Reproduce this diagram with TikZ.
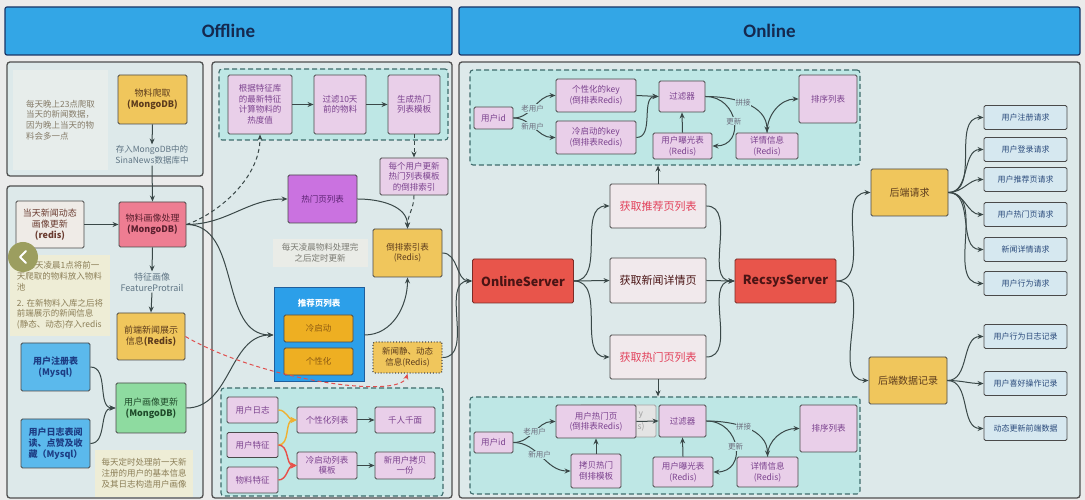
\documentclass[tikz,border=0pt]{standalone}
\usepackage{fontspec}
\setmainfont{Noto Sans CJK SC}
\newfontfamily\hdfont{Carlito}
\usetikzlibrary{arrows.meta}
\definecolor{pagebg}{HTML}{EBEBEB}
\definecolor{hdrfill}{HTML}{33A6E6}
\definecolor{hdrline}{HTML}{1A3566}
\definecolor{hdrtext}{HTML}{15294F}
\definecolor{framefill}{HTML}{DDE9EA}
\definecolor{frameline}{HTML}{4F4F4F}
\definecolor{dashfill}{HTML}{BEE7E5}
\definecolor{dashline}{HTML}{3E6B6B}
\definecolor{boxline}{HTML}{4A4A4A}
\definecolor{lilac}{HTML}{E9CFE9}
\definecolor{lilactext}{HTML}{7B428E}
\definecolor{ylwfill}{HTML}{F0C65C}
\definecolor{ylwtext}{HTML}{5C3B1C}
\definecolor{pinkfill}{HTML}{EE7D92}
\definecolor{pinktext}{HTML}{5A1F2E}
\definecolor{greenfill}{HTML}{8EDBA0}
\definecolor{greentext}{HTML}{1F4A2A}
\definecolor{bluefill}{HTML}{5BB9EC}
\definecolor{bluetext}{HTML}{1D3D84}
\definecolor{purpfill}{HTML}{CA72E0}
\definecolor{purptext}{HTML}{5B2272}
\definecolor{recfill}{HTML}{2C9FE9}
\definecolor{recline}{HTML}{1F5E9C}
\definecolor{orgfill}{HTML}{EEAF22}
\definecolor{orgtext}{HTML}{8C5A12}
\definecolor{redfill}{HTML}{E8554B}
\definecolor{redline}{HTML}{7C2B26}
\definecolor{redtext}{HTML}{4A1414}
\definecolor{getfill}{HTML}{F1E9EC}
\definecolor{gettext}{HTML}{E2405A}
\definecolor{listfill}{HTML}{D6E8F0}
\definecolor{listtext}{HTML}{2B4B7C}
\definecolor{noteA}{HTML}{E7EDEB}
\definecolor{noteAtext}{HTML}{857B68}
\definecolor{noteY}{HTML}{EEEDD6}
\definecolor{noteYtext}{HTML}{8B7E57}
\definecolor{noteD}{HTML}{EAECE7}
\definecolor{noteDtext}{HTML}{7A7A72}
\definecolor{storetext}{HTML}{5F7584}
\definecolor{arrcol}{HTML}{3A4848}
\definecolor{lbltext}{HTML}{6C6C7C}
\definecolor{reddash}{HTML}{E0504F}
\definecolor{orgline}{HTML}{F0B030}
\definecolor{redline2}{HTML}{E8504A}
\definecolor{todayfill}{HTML}{EFEBE7}
\definecolor{todaytext}{HTML}{6A3B30}
\definecolor{grayfill}{HTML}{E4E4E4}
\definecolor{graytext}{HTML}{A0A0A0}
\definecolor{olivec}{HTML}{9C9E5F}
\newcommand{\fsbox}{\fontsize{8.5}{10.5}\selectfont}
\newcommand{\fsleft}{\fontsize{9}{11}\selectfont}
\newcommand{\fsnote}{\fontsize{8.5}{10.8}\selectfont}
\newcommand{\fssmall}{\fontsize{7.5}{9}\selectfont}
\newcommand{\fslist}{\fontsize{8}{9.5}\selectfont}
\tikzset{
  hdr/.style={draw=hdrline, fill=hdrfill, line width=1.2pt, rounded corners=2pt, text=hdrtext, font=\hdfont\bfseries\fontsize{19}{22}\selectfont},
  frame/.style={draw=frameline, fill=framefill, line width=1.3pt, rounded corners=3pt},
  dbox/.style={draw=dashline, fill=dashfill, line width=1.1pt, dash pattern=on 5pt off 3pt, rounded corners=3pt},
  bx/.style={draw=boxline, line width=0.9pt, rounded corners=1.5pt, align=center, inner sep=1pt, font=\fsbox},
  lil/.style={bx, fill=lilac, text=lilactext},
  ybox/.style={bx, fill=ylwfill, text=ylwtext, font=\fsleft},
  pbox/.style={bx, fill=pinkfill, text=pinktext, font=\fsleft},
  gbox/.style={bx, fill=greenfill, text=greentext, font=\fsleft},
  bbox/.style={bx, fill=bluefill, text=bluetext, font=\fsleft\bfseries},
  obox/.style={bx, fill=orgfill, text=orgtext},
  srv/.style={bx, fill=redfill, draw=redline, text=redtext, font=\bfseries\fontsize{12.5}{14}\selectfont},
  getbox/.style={bx, fill=getfill, text=gettext, font=\fontsize{11}{13}\selectfont},
  lbox/.style={bx, fill=listfill, text=listtext, font=\fslist, minimum width=83pt, minimum height=24pt},
  note/.style={align=left, inner sep=2pt, font=\fsnote},
  arr/.style={draw=arrcol, line width=1pt, -{Stealth[length=6pt,width=5pt]}},
  dsh/.style={dash pattern=on 4pt off 3pt},
  oarr/.style={draw=orgline, line width=1.4pt, -{Stealth[length=6pt,width=6pt]}},
  rarr/.style={draw=redline2, line width=1.4pt, -{Stealth[length=6pt,width=6pt]}},
  redarr/.style={draw=reddash, line width=1pt, dash pattern=on 4pt off 3pt, -{Stealth[length=6pt,width=5pt]}},
  lbl/.style={fill=dashfill, inner sep=0.6pt, text=lbltext, font=\fssmall},
  frag/.style={anchor=west, inner sep=0pt, text=graytext, font=\fsbox},
}
\begin{document}
\begin{tikzpicture}[x=1pt,y=1pt]
\useasboundingbox (0,0) rectangle (1085,500);
\fill[pagebg] (0,0) rectangle (1085,500);
% headers
\node[hdr, minimum width=447pt, minimum height=48pt] (offh) at (228.5,469) {Offline};
\node[hdr, minimum width=621pt, minimum height=48pt] (onh) at (769.5,469) {Online};
% frames
\node[frame, minimum width=196pt, minimum height=114pt] (fA) at (105,381) {};
\node[frame, minimum width=196pt, minimum height=312pt] (fB) at (105,158) {};
\node[frame, minimum width=240pt, minimum height=436pt] (fM) at (332,220) {};
\node[frame, minimum width=621pt, minimum height=436pt] (fO) at (769.5,220) {};
% ---------- left column ----------
\node[note, fill=noteA, text=noteAtext, minimum width=95pt, minimum height=100pt] (tA) at (60.5,380) {每天晚上23点爬取\\当天的新闻数据，\\因为晚上当天的物\\料会多一点};
\node[ybox, minimum width=69pt, minimum height=49pt] (crawl) at (152.5,400.5) {物料爬取\\\textbf{(MongoDB)}};
\node[align=center, inner sep=1pt, text=storetext, font=\fsnote] (store) at (152,345) {存入MongoDB中的\\SinaNews数据库中};
\node[bx, fill=todayfill, text=todaytext, font=\fsleft, minimum width=68pt, minimum height=47pt] (today) at (50,275.5) {当天新闻动态\\画像更新\\\textbf{(redis)}};
\node[pbox, minimum width=67pt, minimum height=45pt] (proc) at (152.5,275.5) {物料画像处理\\\textbf{(MongoDB)}};
\node[note, fill=noteY, text=noteYtext, minimum width=100pt, minimum height=81pt] (tB) at (60,204.5) {1. 每天凌晨1点将前一\\天爬取的物料放入物料\\池\\[5pt]2. 在新物料入库之后将\\前端展示的新闻信息\\(静态、动态)存入redis};
\node[align=center, inner sep=1pt, text=storetext, font=\fsleft] (feat) at (152,218) {特征画像\\FeatureProtrail};
\node[ybox, minimum width=68pt, minimum height=47pt] (front) at (151,163.5) {前端新闻展示\\信息\textbf{(Redis)}};
\node[bbox, minimum width=69pt, minimum height=48pt] (reg) at (55.5,133) {用户注册表\\(Mysql)};
\node[bbox, minimum width=69pt, minimum height=49pt] (log) at (55.5,56.5) {用户日志表阅\\读、点赞及收\\藏（Mysql）};
\node[gbox, minimum width=70pt, minimum height=50pt] (uprof) at (151,92) {用户画像更新\\\textbf{(MongoDB)}};
\node[note, fill=noteY, text=noteYtext, minimum width=98pt, minimum height=47pt] (tC) at (144,26.5) {每天定时处理前一天新\\注册的用户的基本信息\\及其日志构造用户画像};
% ---------- middle column ----------
\node[dbox, minimum width=229pt, minimum height=71pt] (dM1) at (333.5,395.5) {};
\node[lil, minimum width=64pt, minimum height=59pt] (hot1) at (260,395.5) {根据特征库\\的最新特征\\计算物料的\\热度值};
\node[lil, minimum width=52pt, minimum height=59pt] (hot2) at (340,395.5) {过滤10天\\前的物料};
\node[lil, minimum width=52pt, minimum height=59pt] (hot3) at (414,395.5) {生成热门\\列表模板};
\node[lil, minimum width=68pt, minimum height=37pt] (inv1) at (414,323.5) {每个用户更新\\热门列表模板\\的倒排索引};
\node[bx, fill=purpfill, text=purptext, minimum width=69pt, minimum height=48pt] (hotlist) at (322.5,301) {热门页列表};
\node[ybox, font=\fsbox, minimum width=69pt, minimum height=48pt] (invidx) at (407.5,247) {倒排索引表\\(Redis)};
\node[note, align=center, fill=noteD, text=noteDtext, minimum width=95pt, minimum height=28pt] (tD) at (320,247) {每天凌晨物料处理完\\之后定时更新};
\node[draw=recline, fill=recfill, line width=1pt, minimum width=90pt, minimum height=94pt] (rec) at (319,165) {};
\node[text=white, font=\fsbox\bfseries, inner sep=1pt] (rectitle) at (319,197) {推荐页列表};
\node[obox, minimum width=69pt, minimum height=27pt] (cold) at (318.5,171.5) {冷启动};
\node[obox, minimum width=69pt, minimum height=27pt] (pers) at (318.5,138.5) {个性化};
\node[bx, fill=ylwfill, text=ylwtext, draw=boxline, dotted, line width=1.3pt, minimum width=69pt, minimum height=31pt] (news) at (407.5,142.5) {新闻静、动态\\信息(Redis)};
\node[dbox, minimum width=222pt, minimum height=108pt] (dM2) at (332,58) {};
\node[lil, minimum width=51pt, minimum height=26pt] (ulog) at (252.5,90) {用户日志};
\node[lil, minimum width=51pt, minimum height=25pt] (ufeat) at (252.5,55) {用户特征};
\node[lil, minimum width=51pt, minimum height=26pt] (ifeat) at (252.5,20) {物料特征};
\node[lil, minimum width=60pt, minimum height=26pt] (plist) at (327,80) {个性化列表};
\node[lil, minimum width=60pt, minimum height=26pt] (qrqm) at (405,80) {千人千面};
\node[lil, minimum width=60pt, minimum height=27pt] (clist) at (327,34.5) {冷启动列表\\模板};
\node[lil, minimum width=60pt, minimum height=27pt] (ncopy) at (405,34.5) {新用户拷贝\\一份};
% ---------- online ----------
\node[dbox, minimum width=390pt, minimum height=95pt] (dT) at (665,382.5) {};
\node[lil, minimum width=39pt, minimum height=22pt] (uid1) at (493.5,382) {用户id};
\node[lil, minimum width=80pt, minimum height=33pt] (pkey) at (596,404.5) {个性化的key\\(倒排表Redis)};
\node[lil, minimum width=80pt, minimum height=33pt] (ckey) at (596,362.5) {冷启动的key\\(倒排表Redis)};
\node[lil, minimum width=46pt, minimum height=31pt] (filt1) at (682,403.5) {过滤器};
\node[lil, minimum width=59pt, minimum height=26pt] (exp1) at (682.5,354) {用户曝光表\\(Redis)};
\node[lil, minimum width=62pt, minimum height=26pt] (det1) at (767,354) {详情信息\\(Redis)};
\node[lil, minimum width=58pt, minimum height=48pt] (sort1) at (828,401) {排序列表};
\node[srv, minimum width=101pt, minimum height=44pt] (os) at (523,219) {OnlineServer};
\node[getbox, minimum width=96pt, minimum height=44pt] (g1) at (658,294) {获取推荐页列表};
\node[getbox, text=redtext, minimum width=96pt, minimum height=45pt] (g2) at (658,219.5) {获取新闻详情页};
\node[getbox, minimum width=96pt, minimum height=44pt] (g3) at (658,143) {获取热门页列表};
\node[srv, minimum width=101pt, minimum height=44pt] (rs) at (785.5,219) {RecsysServer};
\node[ybox, font=\fontsize{10}{12}\selectfont, minimum width=77pt, minimum height=47pt] (breq) at (909.5,307.5) {后端请求};
\node[ybox, font=\fontsize{10}{12}\selectfont, minimum width=78pt, minimum height=47pt] (brec) at (908,119.5) {后端数据记录};
\node[lbox] (r1) at (1025.5,382.5) {用户注册请求};
\node[lbox] (r2) at (1025.5,350.5) {用户登录请求};
\node[lbox] (r3) at (1025.5,320.5) {用户推荐页请求};
\node[lbox] (r4) at (1025.5,285.5) {用户热门页请求};
\node[lbox] (r5) at (1025.5,250.5) {新闻详情请求};
\node[lbox] (r6) at (1025.5,216.5) {用户行为请求};
\node[lbox] (r7) at (1025.5,163.5) {用户行为日志记录};
\node[lbox] (r8) at (1025.5,116.5) {用户喜好操作记录};
\node[lbox] (r9) at (1025.5,71.5) {动态更新前端数据};
\node[dbox, minimum width=390pt, minimum height=97pt] (dB) at (665,54.5) {};
\node[lil, minimum width=39pt, minimum height=21pt] (uid2) at (493.5,57.5) {用户id};
\node[bx, fill=grayfill, draw=graytext, minimum width=76pt, minimum height=32pt] (grayk) at (618,79) {};
\node[frag] (gy) at (638.5,85) {y};
\node[frag] (gs) at (637.5,73) {s)};
\node[lil, minimum width=80pt, minimum height=33pt] (uhot) at (596,78.5) {用户热门页\\(倒排表Redis)};
\node[lil, minimum width=50pt, minimum height=34pt] (copy) at (596,29) {拷贝热门\\倒排模板};
\node[lil, minimum width=47pt, minimum height=32pt] (filt2) at (682.5,79) {过滤器};
\node[lil, minimum width=60pt, minimum height=30pt] (exp2) at (683,28) {用户曝光表\\(Redis)};
\node[lil, minimum width=61pt, minimum height=30pt] (det2) at (767.5,28) {详情信息\\(Redis)};
\node[lil, minimum width=57pt, minimum height=47pt] (sort2) at (828.5,71.5) {排序列表};
% ---------- connectors: left ----------
\draw[arr] (crawl.south) -- (store.north);
\draw[arr] (store.south) -- (proc.north);
\draw[arr] (today.east) -- (proc.west);
\draw[arr] (proc.south) -- (feat.north);
\draw[arr] (feat.south) -- (front.north);
\draw[arr] (reg.east) to[out=0,in=180] (uprof.west);
\draw[arr] (log.east) to[out=0,in=180] (uprof.west);
% ---------- connectors: middle ----------
\draw[arr,dsh] (proc.east) .. controls (215,285) and (260,320) .. (hot1.south);
\draw[arr] (proc.east) to[out=0,in=180] (hotlist.west);
\draw[arr] (proc.east) to[out=0,in=180] (rec.west);
\draw[arr] (uprof.east) to[out=0,in=180] (rec.west);
\draw[arr] (hot1.east) -- (hot2.west);
\draw[arr] (hot2.east) -- (hot3.west);
\draw[arr,dsh] (hot3.south) -- (inv1.north);
\draw[arr,dsh] (inv1.south) to[out=-90,in=90] (invidx.north);
\draw[arr] (hotlist.east) to[out=0,in=90] (invidx.north);
\draw[arr] (rec.east) to[out=0,in=-90] (invidx.south);
\draw[redarr] (front.east) .. controls (260,120) and (400,100) .. (news.south);
\draw[oarr] (ulog.east) to[out=0,in=180] (plist.west);
\draw[oarr] (ufeat.east) to[out=0,in=180] (plist.west);
\draw[rarr] (ufeat.east) to[out=0,in=180] (clist.west);
\draw[rarr] (ifeat.east) to[out=0,in=180] (clist.west);
\draw[arr] (plist.east) -- (qrqm.west);
\draw[arr] (clist.east) -- (ncopy.west);
\draw[arr] (invidx.east) to[out=0,in=180] (os.west);
\draw[arr] (news.east) to[out=0,in=180] (os.west);
% ---------- connectors: online top ----------
\draw[arr] (uid1.east) to[out=0,in=180] node[lbl, pos=0.45] (lo1) {老用户} (pkey.west);
\draw[arr] (uid1.east) to[out=0,in=180] node[lbl, pos=0.45] (ln1) {新用户} (ckey.west);
\draw[arr] (pkey.east) -- (filt1.west);
\draw[arr] (ckey.east) to[out=0,in=180] (filt1.west);
\draw[arr] (exp1.north) -- (filt1.south);
\draw[arr] (filt1.east) to[out=0,in=0,looseness=1.7] node[lbl, pos=0.5] (lu1) {更新} (exp1.east);
\draw[arr] (filt1.east) to[out=0,in=90] node[lbl, pos=0.45] (lp1) {拼接} (det1.north);
\draw[arr] (det1.north) to[out=90,in=180] (sort1.west);
% ---------- connectors: online middle ----------
\draw[arr] (os.east) to[out=0,in=180] (g1.west);
\draw[arr] (os.east) -- (g2.west);
\draw[arr] (os.east) to[out=0,in=180] (g3.west);
\draw[arr] (g1.east) to[out=0,in=180] (rs.west);
\draw[arr] (g2.east) -- (rs.west);
\draw[arr] (g3.east) to[out=0,in=180] (rs.west);
\draw[arr] (g1.north) -- (g1.north |- dT.south);
\draw[arr] (g3.south) -- (g3.south |- dB.north);
\draw[arr] (rs.east) to[out=0,in=180] (breq.west);
\draw[arr] (rs.east) to[out=0,in=180] (brec.west);
\foreach \r in {r1,r2,r3,r4,r5,r6} \draw[arr] (breq.east) to[out=0,in=180] (\r.west);
\foreach \r in {r7,r8,r9} \draw[arr] (brec.east) to[out=0,in=180] (\r.west);
% ---------- connectors: online bottom ----------
\draw[arr] (uid2.east) to[out=0,in=180] node[lbl, pos=0.5] (lo2) {老用户} (uhot.west);
\draw[arr] (uid2.east) to[out=0,in=180] node[lbl, pos=0.45] (ln2) {新用户} (copy.west);
\draw[arr] (copy.north) -- (uhot.south);
\draw[arr] (uhot.east) -- (filt2.west);
\draw[arr] (exp2.north) -- (filt2.south);
\draw[arr] (filt2.east) to[out=0,in=0,looseness=1.7] node[lbl, pos=0.5] (lu2) {更新} (exp2.east);
\draw[arr] (filt2.east) to[out=0,in=90] node[lbl, pos=0.45] (lp2) {拼接} (det2.north);
\draw[arr] (det2.north) to[out=90,in=180] (sort2.west);
% ---------- overlay nav circle ----------
\node[circle, fill=olivec, minimum size=30pt, inner sep=0pt] (navc) at (23,243) {};
\draw[white, line width=1.8pt, line cap=round, line join=round] ([xshift=3pt,yshift=6pt]navc.center) -- ([xshift=-3pt]navc.center) -- ([xshift=3pt,yshift=-6pt]navc.center);
\end{tikzpicture}
\end{document}
